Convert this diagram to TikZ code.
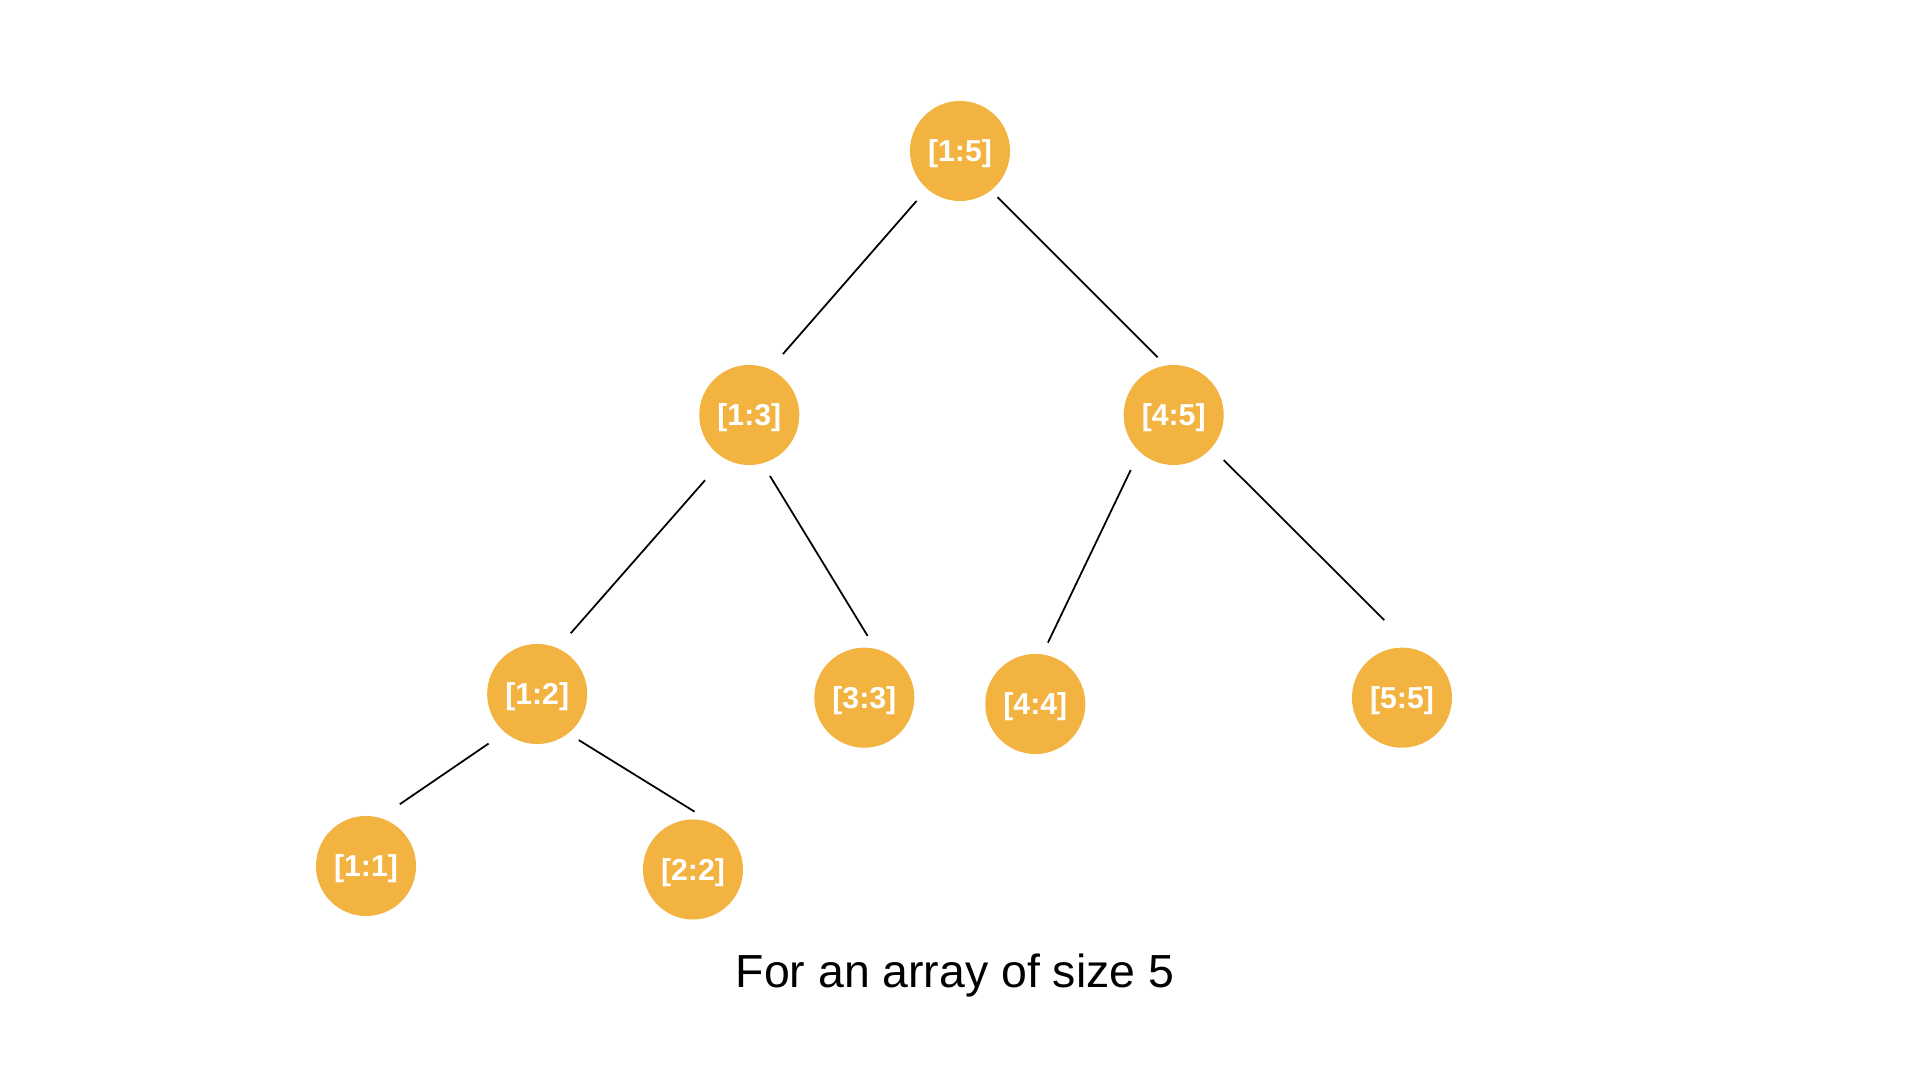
\documentclass[tikz,border=0pt]{standalone}
\usepackage{fontspec}
\setmainfont{Liberation Sans}
\definecolor{nodeorange}{RGB}{242,179,64}
\begin{document}
\begin{tikzpicture}[x=0.01cm,y=-0.01cm,
  seg/.style={circle,fill=nodeorange,minimum size=1cm,inner sep=0pt,outer sep=0pt,
    text=white,font=\fontsize{8.6}{10}\selectfont\bfseries,
    text height=0.28cm,text depth=0.065cm},
  edge/.style={draw=black,line width=0.5pt},
  caption/.style={anchor=base,font=\fontsize{13.2}{15}\selectfont,text=black,inner sep=0pt}]
\useasboundingbox (0,0) rectangle (1920,1080);
\fill[white] (0,0) rectangle (1920,1080);
\node[seg] (n15) at (960,151) {[1:5]};
\node[seg] (n13) at (749.3,415) {[1:3]};
\node[seg] (n45) at (1173.7,415) {[4:5]};
\node[seg] (n12) at (537.2,694) {[1:2]};
\node[seg] (n33) at (864.3,697.7) {[3:3]};
\node[seg] (n44) at (1035.3,704) {[4:4]};
\node[seg] (n55) at (1402,697.7) {[5:5]};
\node[seg] (n11) at (366,866) {[1:1]};
\node[seg] (n22) at (693,869.5) {[2:2]};
\draw[edge,shorten <=0.161cm,shorten >=0.202cm] (n15.229) -- (n13.66);
\draw[edge,shorten <=0.095cm,shorten >=0.118cm] (n15.308) -- (n45.99);
\draw[edge,shorten <=0.291cm,shorten >=0.200cm] (n13.240) -- (n12.66);
\draw[edge,shorten <=0.148cm,shorten >=0.153cm] (n13.285) -- (n33.77);
\draw[edge,shorten <=0.205cm,shorten >=0.131cm] (n45.227) -- (n44.82);
\draw[edge,shorten <=0.173cm,shorten >=0.409cm] (n45.319) -- (n55.77);
\draw[edge,shorten <=0.199cm,shorten >=0.242cm] (n12.230) -- (n11.74);
\draw[edge,shorten <=0.127cm,shorten >=0.276cm] (n12.308) -- (n22.60);
\node[caption] (cap) at (955,988) {For an array of size 5};
\end{tikzpicture}
\end{document}
